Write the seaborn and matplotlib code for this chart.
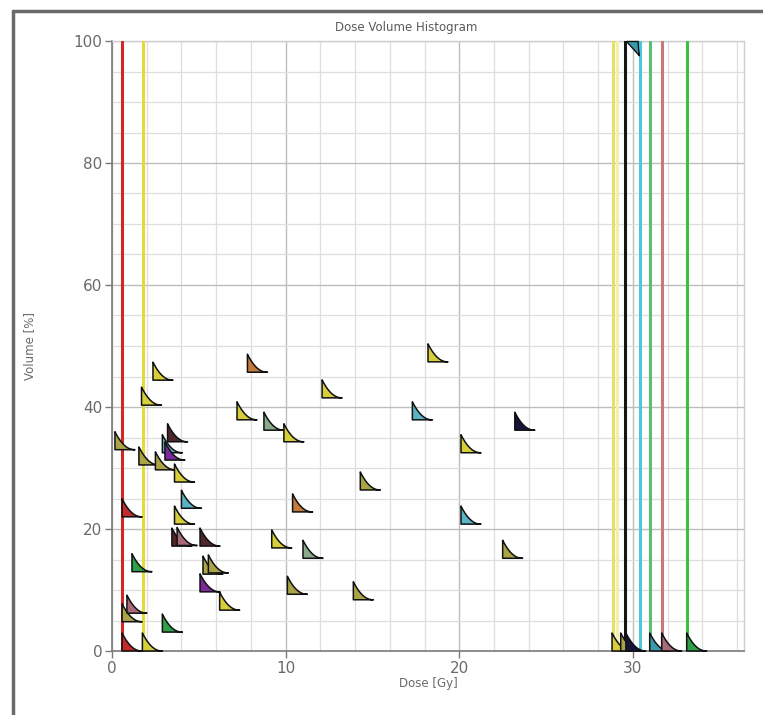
import numpy as np
import pandas as pd
import matplotlib
matplotlib.use("Agg")
import matplotlib.pyplot as plt
import seaborn as sns
from matplotlib.path import Path
from matplotlib.lines import Line2D
from matplotlib.ticker import MultipleLocator

# ---------------- data ----------------
title = "Dose Volume Histogram"
x_label = "Dose [Gy]"
y_label = "Volume [%]"
x_ticks = [0, 10, 20, 30]
y_ticks = [0, 20, 40, 60, 80, 100]

# structures whose DVH drops almost vertically (dose in Gy)
line_names = ["L1", "L2", "L3", "L4", "L5", "L6", "L7", "L8", "L9"]
line_dose = [0.58, 1.78, 28.85, 29.1, 29.55, 30.4, 30.97, 31.66, 33.1]
line_colors = ["#d42626", "#e2dc3a", "#e6e060", "#f2f0b0", "#151515",
               "#4cc8d8", "#58c070", "#c87878", "#3cc040"]

# small DVH "flags" (dose in Gy, volume in %)
flag_dose = [0.58, 1.75, 2.9, 0.58, 0.86, 6.2, 5.07, 10.1, 13.9, 1.15,
             5.24, 5.55, 3.45, 3.75, 5.07, 9.2, 11.0, 3.6, 0.58, 10.4,
             4.0, 14.3, 20.1, 22.5, 2.36, 1.7, 7.8, 7.2, 8.75, 9.9,
             0.17, 3.2, 2.9, 3.05, 1.55, 2.5, 3.6, 12.1, 18.2, 17.3,
             23.2, 20.1, 28.8, 29.3, 29.6, 30.97, 31.66, 33.1]
flag_volume = [0.0, 0.0, 3.1, 4.8, 6.2, 6.7, 9.7, 9.3, 8.4, 13.0,
               12.6, 12.8, 17.2, 17.3, 17.2, 16.9, 15.2, 20.8, 22.0, 22.8,
               23.4, 26.4, 20.8, 15.2, 44.4, 40.3, 45.7, 37.9, 36.2, 34.3,
               33.0, 34.3, 32.5, 31.3, 30.5, 29.7, 27.7, 41.5, 47.4, 37.9,
               36.2, 32.5, 0.0, 0.0, 0.0, 0.0, 0.0, 0.0]
flag_kind = ["red", "yellow", "green", "olive", "mauve", "yellow", "purple", "olive", "olive", "green",
             "olive", "olive", "brown", "mauve", "brown", "yellow", "sage", "yellow", "red", "orange",
             "cyan", "olive", "cyan", "olive", "yellow", "yellow", "orange", "yellow", "sage", "yellow",
             "olive", "brown", "cyan", "purple", "olive", "olive", "yellow", "yellow", "yellow", "cyan",
             "navy", "yellow", "yellow", "olive", "navy", "teal", "mauve", "green"]

# shoulder of the high-dose DVH at the top
top_dose = [29.6]
top_volume = [100.0]
top_kind = ["teal"]

palette = {"red": "#c42a2a", "yellow": "#d6cf3a", "green": "#2ea048", "olive": "#aaa446",
           "mauve": "#a86a78", "purple": "#7a2a9a", "brown": "#4e2828", "sage": "#8aaa8c",
           "orange": "#c47a3a", "cyan": "#5ab4c4", "navy": "#14143c", "teal": "#3a9aaa"}

# ---------------- figure ----------------
W, H = 763, 715
fig = plt.figure(figsize=(W / 100, H / 100), dpi=100)
sns.set_style("white")
plt.rcParams["font.family"] = ["DejaVu Sans"]

L, R, T, B = 112, 744, 41, 651
ax = fig.add_axes([L / W, 1 - B / H, (R - L) / W, (B - T) / H])

# vertical DVH lines
rows = []
for n, d in zip(line_names, line_dose):
    rows.append({"name": n, "dose": d, "vol": 100.0})
    rows.append({"name": n, "dose": d, "vol": 0.0})
df_lines = pd.DataFrame(rows)
sns.lineplot(data=df_lines, x="dose", y="vol", hue="name", units="name",
             palette=dict(zip(line_names, line_colors)), estimator=None,
             sort=False, legend=False, linewidth=2.2, ax=ax, zorder=3)

# flag marker: vertical edge + concave falling tail
t = np.linspace(0, 1, 25)
fx = t
fy = 0.9 * (1 - t) ** 2.2
verts = [(0, 0)] + list(zip(fx, fy)) + [(1, 0), (0, 0)]
codes = [Path.MOVETO] + [Path.LINETO] * (len(verts) - 2) + [Path.CLOSEPOLY]
flag_path = Path(verts, codes)

df_flags = pd.DataFrame({"dose": flag_dose, "vol": flag_volume, "kind": flag_kind})
sns.scatterplot(data=df_flags, x="dose", y="vol", hue="kind", palette=palette,
                marker=flag_path, s=830, edgecolor="#111111", linewidth=1.1,
                legend=False, ax=ax, zorder=4, clip_on=False)

# shoulder marker hanging from the top
tv = [(0, 0), (0.9, 0)] + [(0.9 + 0.1 * u, -1.1 * u ** 0.6) for u in np.linspace(0, 1, 10)] + [(0, 0)]
tc = [Path.MOVETO] + [Path.LINETO] * (len(tv) - 2) + [Path.CLOSEPOLY]
top_path = Path(tv, tc)
df_top = pd.DataFrame({"dose": top_dose, "vol": top_volume, "kind": top_kind})
sns.scatterplot(data=df_top, x="dose", y="vol", hue="kind", palette=palette,
                marker=top_path, s=420, edgecolor="#111111", linewidth=1.0,
                legend=False, ax=ax, zorder=4, clip_on=False)

# axes styling
ax.set_xlim(0, 36.4)
ax.set_ylim(0, 100)
ax.xaxis.set_major_locator(MultipleLocator(10))
ax.xaxis.set_minor_locator(MultipleLocator(2))
ax.yaxis.set_major_locator(MultipleLocator(20))
ax.yaxis.set_minor_locator(MultipleLocator(5))
ax.set_xticks(x_ticks)
ax.set_yticks(y_ticks)
ax.grid(which="major", color="#bdbdbd", linewidth=1.0, zorder=0)
ax.grid(which="minor", color="#dedede", linewidth=0.9, zorder=0)
ax.set_axisbelow(True)
for s in ["top", "right"]:
    ax.spines[s].set_color("#cfcfcf")
    ax.spines[s].set_linewidth(1.0)
for s in ["left", "bottom"]:
    ax.spines[s].set_color("#7a7a7a")
    ax.spines[s].set_linewidth(1.2)
ax.tick_params(axis="both", which="major", length=5, width=1, color="#7a7a7a",
               labelsize=11, labelcolor="#6a6a6a", pad=2, bottom=True, left=True)
ax.tick_params(axis="both", which="minor", length=0)
ax.set_xlabel(x_label, fontsize=8.5, color="#6a6a6a", labelpad=1)
ax.set_ylabel(y_label, fontsize=8.5, color="#6a6a6a")
ax.yaxis.set_label_coords(-0.12, 0.5)

fig.text(406 / W, 1 - 27 / H, title, ha="center", va="center", fontsize=8.5, color="#5a5a5a")

# outer panel frame (left and top edges)
fig.add_artist(Line2D([13 / W, 13 / W], [0, 1 - 11 / H], color="#6a6a6a", linewidth=2.5,
                      transform=fig.transFigure))
fig.add_artist(Line2D([13 / W, 1], [1 - 11 / H, 1 - 11 / H], color="#6a6a6a", linewidth=2.5,
                      transform=fig.transFigure))

fig.savefig("out.png", dpi=100)
